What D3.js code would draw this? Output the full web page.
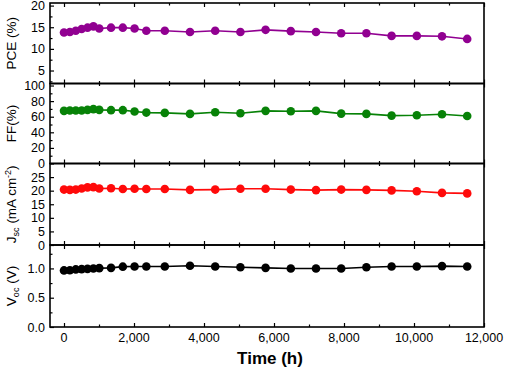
<!DOCTYPE html>
<html><head><meta charset="utf-8">
<script src="https://cdn.jsdelivr.net/npm/d3@7"></script>
<style>body{margin:0;background:#fff}svg{display:block}text{font-family:"Liberation Sans",Arial,sans-serif}</style>
</head><body>
<script>
const timeH = [0,168,336,504,672,840,1008,1344,1680,2016,2352,2880,3600,4320,5040,5760,6480,7200,7920,8640,9360,10080,10800,11520];
const pce = [13.8,13.9,14.2,14.6,14.9,15.2,14.7,14.9,14.9,14.7,14.2,14.2,13.9,14.2,13.9,14.4,14.1,13.9,13.6,13.6,13.0,13.0,12.9,12.3];
const ff  = [67.5,68,68,68,68.8,69.7,68.8,68.4,68.4,66.6,65.3,64.9,63.6,65.8,64.5,67.5,67.1,67.5,64,63.6,61.4,61.9,63.2,61];
const jsc = [20.4,20.3,20.4,20.8,21.2,21.3,20.8,20.9,20.6,20.7,20.6,20.6,20.3,20.4,20.7,20.7,20.4,20.2,20.4,20.3,20.1,19.8,19.2,19.0];
const voc = [0.966,0.97,0.983,0.988,0.993,1.0,1.005,1.01,1.03,1.034,1.034,1.034,1.045,1.034,1.02,1.01,1.0,1.0,1.0,1.02,1.034,1.034,1.04,1.034];
const xTicks = [0,2000,4000,6000,8000,10000,12000];
const xMinor = [1000,3000,5000,7000,9000,11000];
const pceTicks = [5,10,15,20], pceMinor = [2.5,7.5,12.5,17.5];
const ffTicks = [0,20,40,60,80,100], ffMinor = [10,30,50,70,90];
const jscTicks = [0,5,10,15,20,25], jscMinor = [];
const vocTicks = [0,0.5,1.0], vocMinor = [0.25,0.75,1.25];

const W=505,H=370;
const svg=d3.select("body").append("svg").attr("width",W).attr("height",H);
const x=d3.scaleLinear().domain([-400,12000]).range([50,484]);

const panels=[
 {vals:pce,color:"#910091",dom:[2,20.6],top:3,bot:83.5,ticks:pceTicks,minor:pceMinor,fmt:d3.format("d"),label:"pce"},
 {vals:ff,color:"#078207",dom:[0,102.6],top:83.5,bot:163.5,ticks:ffTicks,minor:ffMinor,fmt:d3.format("d"),label:"ff"},
 {vals:jsc,color:"#ff0a0a",dom:[0,30],top:163.5,bot:245,ticks:jscTicks,minor:jscMinor,fmt:d3.format("d"),label:"jsc"},
 {vals:voc,color:"#000000",dom:[0,1.4],top:245,bot:327,ticks:vocTicks,minor:vocMinor,fmt:d3.format(".1f"),label:"voc"}
];

panels.forEach(p=>{
  const y=d3.scaleLinear().domain(p.dom).range([p.bot,p.top]);
  const g=svg.append("g");
  // inner ticks: bottom & top
  g.append("g").attr("transform",`translate(0,${p.bot})`)
    .call(d3.axisTop(x).tickValues(xTicks).tickSize(4).tickFormat(""))
    .call(s=>s.select(".domain").remove());
  g.append("g").attr("transform",`translate(0,${p.bot})`)
    .call(d3.axisTop(x).tickValues(xMinor).tickSize(2.5).tickFormat(""))
    .call(s=>s.select(".domain").remove());
  g.append("g").attr("transform",`translate(0,${p.top})`)
    .call(d3.axisBottom(x).tickValues(xTicks).tickSize(4).tickFormat(""))
    .call(s=>s.select(".domain").remove());
  g.append("g").attr("transform",`translate(0,${p.top})`)
    .call(d3.axisBottom(x).tickValues(xMinor).tickSize(2.5).tickFormat(""))
    .call(s=>s.select(".domain").remove());
  // y axis with inward ticks
  const ya=g.append("g").attr("transform",`translate(50,0)`)
    .call(d3.axisRight(y).tickValues(p.ticks).tickSize(4).tickFormat(p.fmt));
  ya.select(".domain").remove();
  ya.selectAll("text").attr("x",-5).attr("text-anchor","end").attr("font-size",12.5).attr("fill","#000")
    .style("font-family","'Liberation Sans',Arial,sans-serif");
  g.append("g").attr("transform",`translate(50,0)`)
    .call(d3.axisRight(y).tickValues(p.minor).tickSize(2.5).tickFormat(""))
    .call(s=>s.select(".domain").remove());
  g.selectAll(".tick line").attr("stroke","#000").attr("stroke-width",1.2);
  // frame
  g.append("rect").attr("x",50).attr("y",p.top).attr("width",434).attr("height",p.bot-p.top)
    .attr("fill","none").attr("stroke","#000").attr("stroke-width",1.6);
  // line + points
  const line=d3.line().x((d,i)=>x(timeH[i])).y(d=>y(d));
  g.append("path").datum(p.vals).attr("d",line).attr("fill","none").attr("stroke",p.color).attr("stroke-width",1.6);
  g.selectAll("circle").data(p.vals).join("circle")
    .attr("cx",(d,i)=>x(timeH[i])).attr("cy",d=>y(d)).attr("r",4.3).attr("fill",p.color);
  // y label
  const cy=(p.top+p.bot)/2;
  const t=svg.append("text").attr("transform",`translate(16,${cy}) rotate(-90)`)
    .attr("text-anchor","middle").attr("font-size",13.5).attr("fill","#000");
  if(p.label==="pce") t.text("PCE (%)");
  if(p.label==="ff") t.text("FF(%)");
  if(p.label==="jsc"){
    t.append("tspan").text("J");
    t.append("tspan").attr("font-size",9).attr("dy",3).text("sc");
    t.append("tspan").attr("dy",-3).text(" (mA cm");
    t.append("tspan").attr("font-size",9).attr("dy",-5).text("-2");
    t.append("tspan").attr("dy",5).text(")");
  }
  if(p.label==="voc"){
    t.append("tspan").text("V");
    t.append("tspan").attr("font-size",9).attr("dy",3).text("oc");
    t.append("tspan").attr("dy",-3).text(" (V)");
  }
});

// x tick labels
svg.append("g").selectAll("text").data(xTicks).join("text")
  .attr("x",d=>x(d)).attr("y",342).attr("text-anchor","middle").attr("font-size",12.5)
  .text(d=>d3.format(",")(d));
svg.append("text").attr("x",270).attr("y",364).attr("text-anchor","middle")
  .attr("font-size",17).attr("font-weight","bold").text("Time (h)");
</script>
</body></html>
